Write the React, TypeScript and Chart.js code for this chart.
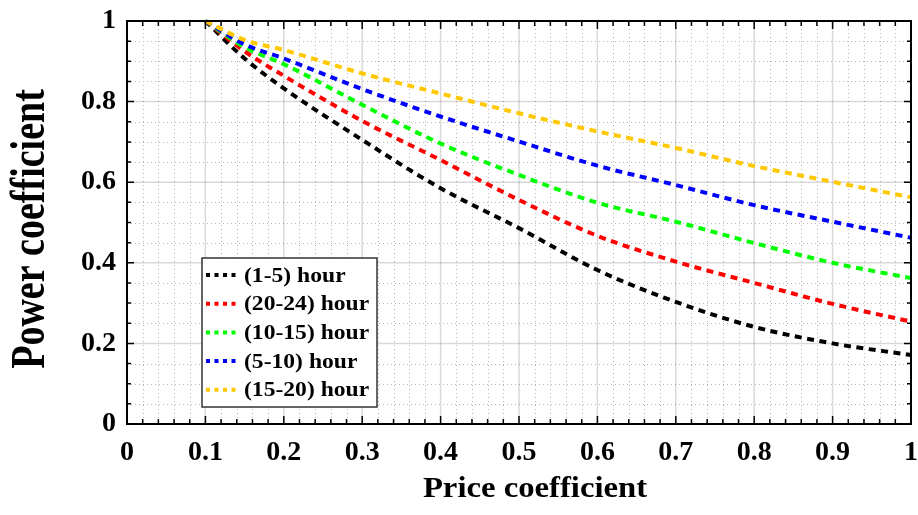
import React, { useEffect, useRef } from "react";
import { Chart, registerables } from "chart.js";

Chart.register(...registerables);

// ---- data ----
const priceCoeff = [0.1, 0.15, 0.2, 0.3, 0.4, 0.5, 0.6, 0.7, 0.8, 0.9, 1.0];
const hour1to5 = [1, 0.907, 0.833, 0.705, 0.585, 0.486, 0.382, 0.303, 0.241, 0.2, 0.171];
const hour20to24 = [1, 0.925, 0.864, 0.752, 0.655, 0.556, 0.467, 0.403, 0.35, 0.298, 0.254];
const hour10to15 = [1, 0.935, 0.893, 0.792, 0.696, 0.618, 0.549, 0.502, 0.449, 0.4, 0.362];
const hour5to10 = [1, 0.942, 0.907, 0.831, 0.763, 0.701, 0.641, 0.593, 0.543, 0.502, 0.462];
const hour15to20 = [1, 0.953, 0.928, 0.87, 0.82, 0.771, 0.726, 0.685, 0.64, 0.601, 0.5625];

const seriesLabels = ["(1-5) hour", "(20-24) hour", "(10-15) hour", "(5-10) hour", "(15-20) hour"];
const seriesValues = [hour1to5, hour20to24, hour10to15, hour5to10, hour15to20];
const seriesColors = ["#000000", "#ff0000", "#00ff00", "#0000ff", "#ffc800"];

const xTitle = "Price coefficient";
const yTitle = "Power coefficient";

const FONT = '"Liberation Serif", "Times New Roman", serif';

const fmt = (v: number) => {
  const r = Math.round(v * 10) / 10;
  return String(r);
};

const decorPlugin = {
  id: "decor",
  beforeDatasetsDraw(chart: any) {
    const { ctx, chartArea: a, scales } = chart;
    const x = scales.x;
    const y = scales.y;
    ctx.save();
    // minor dotted grid
    ctx.strokeStyle = "#b8b8b8";
    ctx.lineWidth = 1;
    ctx.setLineDash([1, 3]);
    for (let i = 1; i < 50; i++) {
      if (i % 5 === 0) continue;
      const px = Math.round(x.getPixelForValue(i / 50)) + 0.5;
      ctx.beginPath();
      ctx.moveTo(px, a.top);
      ctx.lineTo(px, a.bottom);
      ctx.stroke();
    }
    for (let i = 1; i < 20; i++) {
      if (i % 4 === 0) continue;
      const py = Math.round(y.getPixelForValue(i / 20)) + 0.5;
      ctx.beginPath();
      ctx.moveTo(a.left, py);
      ctx.lineTo(a.right, py);
      ctx.stroke();
    }
    // major solid grid
    ctx.setLineDash([]);
    ctx.strokeStyle = "rgba(0,0,0,0.15)";
    ctx.lineWidth = 1.5;
    for (let i = 1; i < 10; i++) {
      const px = x.getPixelForValue(i / 10);
      ctx.beginPath();
      ctx.moveTo(px, a.top);
      ctx.lineTo(px, a.bottom);
      ctx.stroke();
    }
    for (let i = 1; i < 5; i++) {
      const py = y.getPixelForValue(i / 5);
      ctx.beginPath();
      ctx.moveTo(a.left, py);
      ctx.lineTo(a.right, py);
      ctx.stroke();
    }
    ctx.restore();
  },
  afterDatasetsDraw(chart: any) {
    const { ctx, chartArea: a, scales } = chart;
    const x = scales.x;
    const y = scales.y;
    ctx.save();
    ctx.strokeStyle = "#000";
    ctx.lineWidth = 1.5;
    ctx.setLineDash([]);
    // x ticks (bottom & top), inward
    for (let i = 0; i <= 50; i++) {
      const px = x.getPixelForValue(i / 50);
      const len = i % 5 === 0 ? 8 : 5;
      ctx.beginPath();
      ctx.moveTo(px, a.bottom);
      ctx.lineTo(px, a.bottom - len);
      ctx.moveTo(px, a.top);
      ctx.lineTo(px, a.top + len);
      ctx.stroke();
    }
    // y ticks (left & right), inward
    for (let i = 0; i <= 20; i++) {
      const py = y.getPixelForValue(i / 20);
      const len = i % 4 === 0 ? 7 : 4;
      ctx.beginPath();
      ctx.moveTo(a.left, py);
      ctx.lineTo(a.left + len, py);
      ctx.moveTo(a.right, py);
      ctx.lineTo(a.right - len, py);
      ctx.stroke();
    }
    // frame
    ctx.lineWidth = 2;
    ctx.strokeRect(a.left, a.top, a.right - a.left, a.bottom - a.top);
    ctx.restore();
  },
  afterDraw(chart: any) {
    const { ctx, chartArea: a } = chart;
    ctx.save();
    // legend box
    const lx = 202, ly = 258, lw = 175, lh = 149;
    ctx.fillStyle = "#ffffff";
    ctx.fillRect(lx, ly, lw, lh);
    ctx.strokeStyle = "#333";
    ctx.lineWidth = 1.5;
    ctx.strokeRect(lx, ly, lw, lh);
    ctx.font = `bold 20px ${FONT}`;
    ctx.textBaseline = "middle";
    ctx.textAlign = "left";
    for (let i = 0; i < seriesLabels.length; i++) {
      const cy = 275 + i * 28.7;
      ctx.strokeStyle = seriesColors[i];
      ctx.lineWidth = 4;
      ctx.setLineDash([4, 4.5]);
      ctx.beginPath();
      ctx.moveTo(206, cy);
      ctx.lineTo(240, cy);
      ctx.stroke();
      ctx.setLineDash([]);
      ctx.fillStyle = "#000";
      ctx.save();
      ctx.translate(244, cy + 1);
      ctx.scale(1.18, 1.08);
      ctx.fillText(seriesLabels[i], 0, 0);
      ctx.restore();
    }
    // x title
    ctx.fillStyle = "#000";
    ctx.font = `bold 30px ${FONT}`;
    ctx.textAlign = "center";
    ctx.textBaseline = "alphabetic";
    ctx.save();
    ctx.translate((a.left + a.right) / 2 + 16, 497);
    ctx.scale(1.09, 1);
    ctx.fillText(xTitle, 0, 0);
    ctx.restore();
    // y title
    ctx.font = `bold 38px ${FONT}`;
    ctx.save();
    ctx.translate(44, 229);
    ctx.rotate(-Math.PI / 2);
    ctx.scale(1, 1.25);
    ctx.fillText(yTitle, 0, 0);
    ctx.restore();
    ctx.restore();
  },
};

export default function App() {
  const ref = useRef<HTMLCanvasElement | null>(null);
  useEffect(() => {
    document.body.style.margin = "0";
    const canvas = ref.current;
    if (!canvas) return;
    // draw order: yellow on top
    const order = [4, 3, 2, 1, 0];
    const datasets = order.map((k) => ({
      label: seriesLabels[k],
      data: priceCoeff.map((p, j) => ({ x: p, y: seriesValues[k][j] })),
      borderColor: seriesColors[k],
      backgroundColor: seriesColors[k],
      borderWidth: 4,
      borderDash: [7, 5.5],
      borderCapStyle: "butt" as const,
      pointRadius: 0,
      fill: false,
      cubicInterpolationMode: "monotone" as const,
      clip: false as any,
    }));
    const tickFont = { family: FONT, size: 28, weight: "bold" as const };
    const chart = new Chart(canvas, {
      type: "line",
      data: { datasets },
      options: {
        animation: false,
        responsive: false,
        devicePixelRatio: 1,
        layout: { padding: { top: 21, right: 7, left: 0, bottom: 0 } },
        plugins: { legend: { display: false }, tooltip: { enabled: false } },
        scales: {
          x: {
            type: "linear",
            min: 0,
            max: 1,
            grid: { display: false, drawTicks: false, tickLength: 0 },
            border: { display: false },
            ticks: {
              stepSize: 0.1,
              color: "#000",
              font: tickFont,
              padding: 12,
              maxRotation: 0,
              autoSkip: false,
              callback: (v: any) => fmt(Number(v)),
            },
            afterFit: (s: any) => {
              s.height = 91;
              s.paddingLeft = 0;
              s.paddingRight = 0;
            },
          },
          y: {
            type: "linear",
            min: 0,
            max: 1,
            grid: { display: false, drawTicks: false, tickLength: 0 },
            border: { display: false },
            ticks: {
              stepSize: 0.2,
              color: "#000",
              font: tickFont,
              padding: 11,
              callback: (v: any) => fmt(Number(v)),
            },
            afterFit: (s: any) => {
              s.width = 127;
              s.paddingTop = 0;
              s.paddingBottom = 0;
            },
          },
        },
      },
      plugins: [decorPlugin],
    });
    return () => chart.destroy();
  }, []);
  return (
    <div style={{ width: 918, height: 515, background: "#fff" }}>
      <canvas ref={ref} width={918} height={515} />
    </div>
  );
}
